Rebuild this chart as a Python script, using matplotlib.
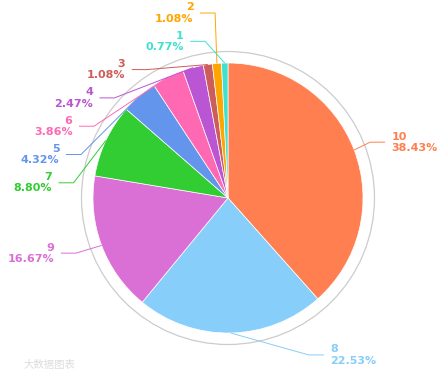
import matplotlib
matplotlib.use('Agg')
import matplotlib.pyplot as plt
from matplotlib.patches import Circle
import numpy as np

names = ['10', '8', '9', '7', '5', '6', '4', '3', '2', '1']
values = [38.43, 22.53, 16.67, 8.80, 4.32, 3.86, 2.47, 1.08, 1.08, 0.77]
colors = ['#ff7f50', '#87cefa', '#da70d6', '#32cd32', '#6495ed',
          '#ff69b4', '#ba55d3', '#cd5c5c', '#ffa500', '#40e0d0']

W, H = 445, 375
cx, cy = 228, 198          # pie centre in pixels, y from the top
radius = 135
ring_radius = 146.5
len1, len2 = 22, 15        # label line: radial part, horizontal part
label_h = 28.3             # two text lines
text_gap = 6.5

fig = plt.figure(figsize=(W / 100, H / 100), dpi=100)
ax = fig.add_axes([0, 0, 1, 1])

wedges, _ = ax.pie(values, colors=colors, startangle=90, counterclock=False,
                   center=(cx, H - cy), radius=radius, frame=True,
                   wedgeprops=dict(edgecolor='white', linewidth=0.5))
ax.add_patch(Circle((cx, H - cy), ring_radius, fill=False,
                    edgecolor='#cccccc', linewidth=0.9))
ax.set_xlim(0, W)
ax.set_ylim(0, H)
ax.set_aspect('equal')
ax.axis('off')

total = sum(values)

# natural label anchors, screen pixels (y down)
labels = []
for i, w in enumerate(wedges):
    a = np.deg2rad((w.theta1 + w.theta2) / 2)
    ux, uy = np.cos(a), -np.sin(a)
    side = 1 if ux >= 0 else -1
    labels.append(dict(i=i, ux=ux, uy=uy, side=side,
                       y=cy + (radius + len1) * uy,
                       x_nat=cx + (radius + len1) * ux + side * len2))


def stack(group):
    # labels closer than a couple of pixels keep data order
    group.sort(key=lambda d: (np.floor(d['y'] / 2), d['i']))
    ys = [d['y'] for d in group]
    pos = []
    last = -np.inf
    for y in ys:
        p = max(y, last + label_h)
        pos.append(p)
        last = p
    shift = sum(p - y for p, y in zip(pos, ys)) / len(pos)
    pos = [p - shift for p in pos]
    if pos[0] < 13:
        pos = [p + 13 - pos[0] for p in pos]
    if pos[-1] > H - 13:
        pos = [p - (pos[-1] - (H - 13)) for p in pos]
    for d, p in zip(group, pos):
        d['y'] = p


for side in (-1, 1):
    for down in (False, True):
        grp = [d for d in labels if d['side'] == side and (d['y'] >= cy) == down]
        if not grp:
            continue
        stack(grp)
        grp.sort(key=lambda d: d['y'])
        last = np.inf if down else 0
        for d in grp:
            dy = abs(d['y'] - label_h / 2 - cy)
            if dy < radius + len1:
                dx = np.sqrt((radius + len1 + len2) ** 2 - dy ** 2)
            else:
                dx = abs(d['x_nat'] - cx)
            if not down and dx <= last:
                dx = last + 10
            if down and dx >= last:
                dx = last - 10
            d['x_end'] = cx + side * dx
            last = dx

for d in labels:
    i, side = d['i'], d['side']
    xs = [cx + radius * d['ux'], d['x_end'] - side * len2, d['x_end']]
    ys = [cy + radius * d['uy'], d['y'], d['y']]
    ax.plot(xs, [H - y for y in ys], color=colors[i], linewidth=0.7,
            solid_capstyle='butt')
    ha = 'left' if side > 0 else 'right'
    ax.text(d['x_end'] + side * text_gap, H - d['y'],
            '{}\n{:.2f}%'.format(names[i], values[i] / total * 100),
            ha=ha, va='center', multialignment=ha, color=colors[i],
            fontsize=8, fontweight='bold', linespacing=1.15,
            family='DejaVu Sans')

fig.text(24 / W, 1 - 365 / H, '大数据图表', color='#dddddd', fontsize=7.5,
         ha='left', va='center', family=['Noto Sans CJK SC', 'DejaVu Sans'])

fig.savefig('out.png', dpi=100)
